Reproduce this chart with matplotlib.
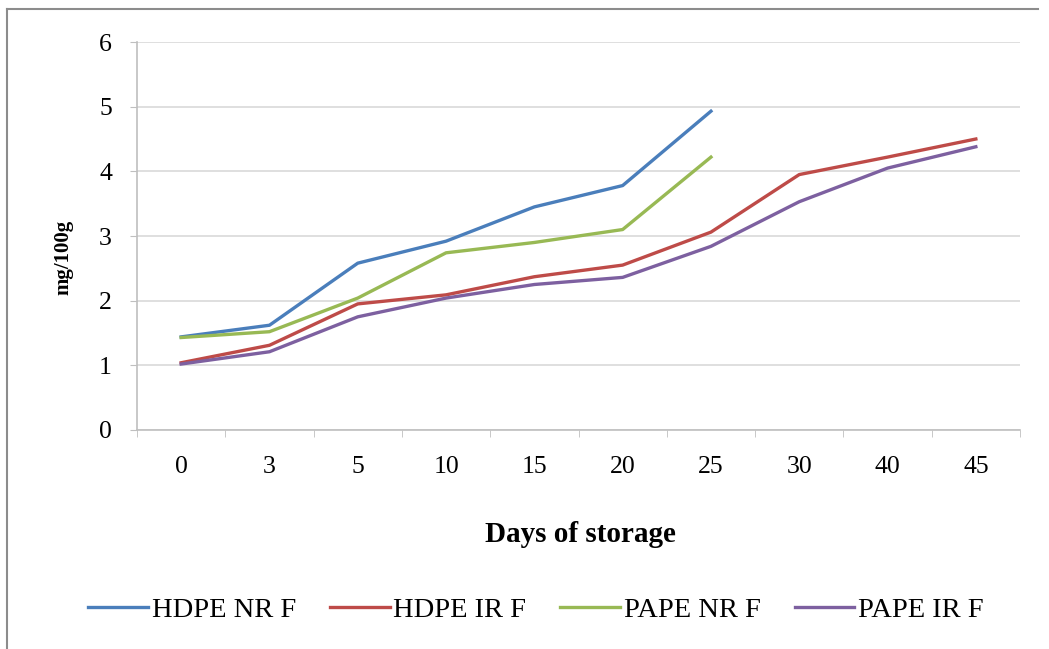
import matplotlib.pyplot as plt
import numpy as np
from matplotlib.lines import Line2D

plt.rcParams["font.family"] = ["Liberation Serif", "DejaVu Serif"]

days = ["0", "3", "5", "10", "15", "20", "25", "30", "40", "45"]
hdpe_nr_f = [1.44, 1.62, 2.58, 2.92, 3.45, 3.78, 4.93]
hdpe_ir_f = [1.04, 1.31, 1.95, 2.09, 2.37, 2.55, 3.06, 3.95, 4.22, 4.50]
pape_nr_f = [1.43, 1.52, 2.04, 2.74, 2.90, 3.10, 4.22]
pape_ir_f = [1.02, 1.21, 1.75, 2.04, 2.25, 2.36, 2.84, 3.53, 4.05, 4.38]

series = [
    ("HDPE NR F", hdpe_nr_f, "#4A7EBB"),
    ("HDPE IR F", hdpe_ir_f, "#BE4B48"),
    ("PAPE NR F", pape_nr_f, "#98B954"),
    ("PAPE IR F", pape_ir_f, "#7D60A0"),
]

fig = plt.figure(figsize=(10.49, 6.49), dpi=100)
ax = fig.add_axes([137 / 1049, 1 - 430 / 649, 883 / 1049, 388 / 649])

pos = np.arange(len(days))
for name, vals, color in series:
    ax.plot(pos[: len(vals)], vals, color=color, linewidth=2.4, label=name,
            solid_joinstyle="round")

ax.set_xlim(-0.5, len(days) - 0.5)
ax.set_ylim(0, 6)

# category labels centred, tick marks between categories
ax.set_xticks(pos)
ax.set_xticklabels(days, fontsize=18.5)
ax.set_xticks(np.arange(-0.5, len(days)), minor=True)
ax.tick_params(axis="x", which="major", length=0, pad=19)
ax.tick_params(axis="x", which="minor", length=5, direction="out", color="#BFBFBF")

ax.set_yticks(range(0, 7))
ax.tick_params(axis="y", length=5, direction="out", color="#BFBFBF", labelsize=18.5, pad=13)

ax.grid(axis="y", color="#D9D9D9", linewidth=1.2)
ax.set_axisbelow(True)
for side in ["top", "right"]:
    ax.spines[side].set_visible(False)
for side in ["left", "bottom"]:
    ax.spines[side].set_color("#BFBFBF")
    ax.spines[side].set_linewidth(1.2)

fig.text(580 / 1049, 1 - 535 / 649, "Days of storage", fontsize=21,
         fontweight="bold", ha="center", va="center")
fig.text(63 / 1049, 1 - 257 / 649, "mg/100g", fontsize=15,
         fontweight="bold", ha="center", va="center", rotation=90)

fig.legend(loc="center", bbox_to_anchor=(536 / 1049, 1 - 610 / 649), ncol=4,
           frameon=False, fontsize=20.5, handlelength=2.1, handletextpad=0.12,
           columnspacing=1.2)

# outer chart border (left and top edges)
fig.add_artist(Line2D([7 / 1049, 7 / 1049], [0, 1 - 9 / 649],
                      transform=fig.transFigure, color="#8C8C8C", linewidth=1.5))
fig.add_artist(Line2D([7 / 1049, 1038 / 1049], [1 - 9 / 649, 1 - 9 / 649],
                      transform=fig.transFigure, color="#8C8C8C", linewidth=1.5))

fig.savefig("out.png", dpi=100)
